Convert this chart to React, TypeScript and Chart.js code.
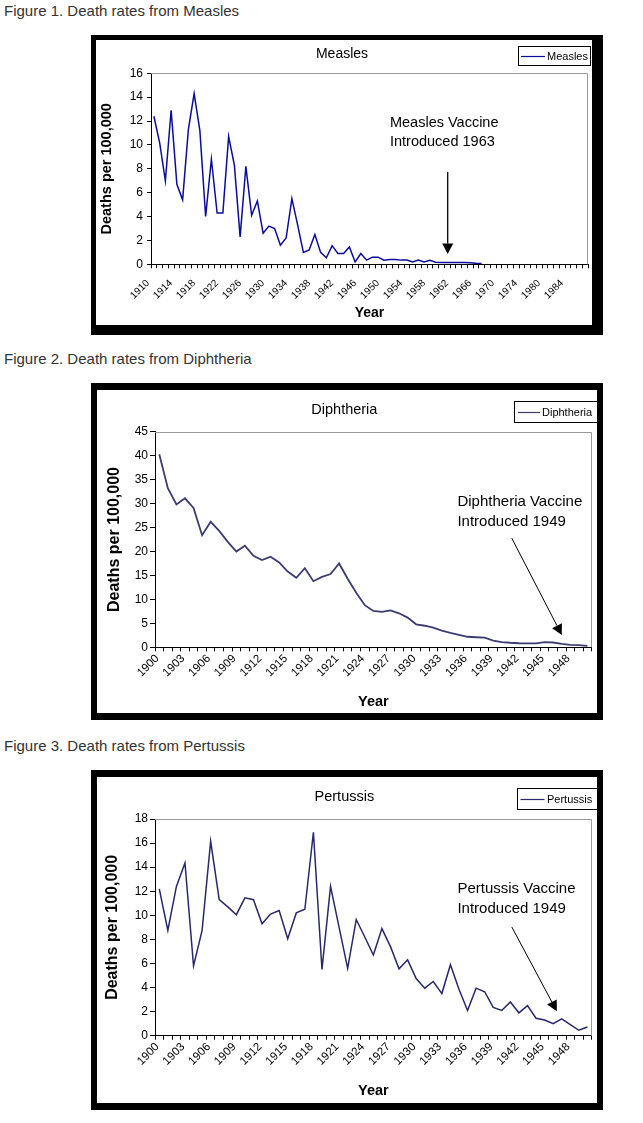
import React, { useEffect, useRef } from 'react';
import { Chart, registerables } from 'chart.js';

Chart.register(...registerables);

const FONT = '"Liberation Sans", Arial, Helvetica, sans-serif';

// ---------------- data ----------------
const measlesYears = [
  '1910', '1911', '1912', '1913', '1914', '1915', '1916', '1917', '1918', '1919',
  '1920', '1921', '1922', '1923', '1924', '1925', '1926', '1927', '1928', '1929',
  '1930', '1931', '1932', '1933', '1934', '1935', '1936', '1937', '1938', '1939',
  '1940', '1941', '1942', '1943', '1944', '1945', '1946', '1947', '1948', '1949',
  '1950', '1951', '1952', '1953', '1954', '1955', '1956', '1957', '1958', '1959',
  '1960', '1961', '1962', '1963', '1964', '1965', '1966', '1967', '1968', '1969',
  '1970', '1971', '1972', '1973', '1974', '1977', '1978', '1979', '1980', '1981',
  '1982', '1983', '1984', '1985', '1986', '1987',
];
const measlesRates = [
  12.4, 10.2, 7.0, 12.9, 6.7, 5.4, 11.3, 14.3, 11.2, 4.0,
  8.8, 4.3, 4.3, 10.7, 8.3, 2.3, 8.2, 4.1, 5.3, 2.6,
  3.2, 3.0, 1.6, 2.2, 5.5, 3.3, 1.0, 1.2, 2.5, 1.0,
  0.55, 1.56, 0.9, 0.9, 1.45, 0.2, 0.9, 0.35, 0.6, 0.6,
  0.35, 0.4, 0.4, 0.35, 0.35, 0.2, 0.35, 0.2, 0.33, 0.17,
  0.15, 0.15, 0.15, 0.15, 0.15, 0.12, 0.08, 0.06,
];

const diphtheriaYears = [
  '1900', '1901', '1902', '1903', '1904', '1905', '1906', '1907', '1908', '1909',
  '1910', '1911', '1912', '1913', '1914', '1915', '1916', '1917', '1918', '1919',
  '1920', '1921', '1922', '1923', '1924', '1925', '1926', '1927', '1928', '1929',
  '1930', '1931', '1932', '1933', '1934', '1935', '1936', '1937', '1938', '1939',
  '1940', '1941', '1942', '1943', '1944', '1945', '1946', '1947', '1948', '1949',
  '1950',
];
const diphtheriaRates = [
  40.3, 33.2, 29.8, 31.1, 29.1, 23.4, 26.2, 24.3, 22.0, 20.0,
  21.2, 19.1, 18.2, 18.9, 17.7, 15.8, 14.5, 16.5, 13.8, 14.7,
  15.3, 17.5, 14.3, 11.4, 8.8, 7.6, 7.4, 7.7, 7.1, 6.2,
  4.8, 4.5, 4.1, 3.5, 3.0, 2.6, 2.2, 2.1, 2.0, 1.4,
  1.1, 0.95, 0.85, 0.8, 0.8, 1.1, 1.0, 0.7, 0.5, 0.45,
  0.3,
];

const pertussisYears = [
  '1900', '1901', '1902', '1903', '1904', '1905', '1906', '1907', '1908', '1909',
  '1910', '1911', '1912', '1913', '1914', '1915', '1916', '1917', '1918', '1919',
  '1920', '1921', '1922', '1923', '1924', '1925', '1926', '1927', '1928', '1929',
  '1930', '1931', '1932', '1933', '1934', '1935', '1936', '1937', '1938', '1939',
  '1940', '1941', '1942', '1943', '1944', '1945', '1946', '1947', '1948', '1949',
  '1950',
];
const pertussisRates = [
  12.2, 8.75, 12.4, 14.35, 5.8, 8.75, 16.15, 11.3, 10.7, 10.05,
  11.45, 11.3, 9.3, 10.1, 10.4, 8.05, 10.2, 10.5, 16.9, 5.5,
  12.4, 9.0, 5.6, 9.65, 8.2, 6.7, 8.9, 7.4, 5.55, 6.3,
  4.75, 3.95, 4.5, 3.5, 5.9, 3.85, 2.1, 3.95, 3.65, 2.35,
  2.1, 2.8, 1.9, 2.5, 1.45, 1.3, 1.0, 1.4, 0.92, 0.45,
  0.72,
];

// annotation text + arrow (in data coordinates: category index, rate)
const measlesNote = ['Measles Vaccine', 'Introduced 1963'];
const measlesNoteAt = [41.06, 11.86, 10.27];
const measlesArrow = [51.1, 7.73, 51.1, 0.86];

const diphtheriaNote = ['Diphtheria Vaccine', 'Introduced 1949'];
const diphtheriaNoteAt = [34.82, 30.4, 26.1];
const diphtheriaArrow = [41.17, 22.76, 47.01, 2.57];

const pertussisNote = ['Pertussis Vaccine', 'Introduced 1949'];
const pertussisNoteAt = [34.82, 12.21, 10.5];
const pertussisArrow = [41.17, 9.03, 46.43, 2.03];

// ---------------- chart component ----------------
type Spec = {
  title: string;
  label: string;
  categories: string[];
  values: number[];
  every: number;
  yMax: number;
  yStep: number;
  color: string;
  lineWidth: number;
  width: number;
  height: number;
  plotLeft: number;
  plotRight: number;
  plotTop: number;
  xAxisHeight: number;
  titleSize: number;
  titlePadTop: number;
  yTitleSize: number;
  yTitlePad: number;
  xTitleSize: number;
  xTitlePad: number;
  yTickSize: number;
  yTickLen: number;
  yTickPad: number;
  xTickSize: number;
  xTickPad: number;
  xTickShift: number;
  legend: { x: number; y: number; w: number; h: number; l0: number; l1: number; tx: number; size: number };
  note: string[];
  noteAt: number[];
  noteSize: number;
  arrow: number[];
  arrowWidth: number;
};

function LineChartPanel({ spec }: { spec: Spec }) {
  const ref = useRef<HTMLCanvasElement | null>(null);

  useEffect(() => {
    const canvas = ref.current;
    if (!canvas) return;
    const s = spec;
    const titleLH = s.titleSize * 1.2;

    const plotBorder = {
      id: 'plotBorder',
      beforeDatasetsDraw(chart: any) {
        const { ctx, chartArea: a } = chart;
        ctx.save();
        ctx.strokeStyle = '#9a9a9a';
        ctx.lineWidth = 1;
        ctx.beginPath();
        ctx.moveTo(a.left, Math.round(a.top) + 0.5);
        ctx.lineTo(Math.round(a.right) - 0.5, Math.round(a.top) + 0.5);
        ctx.lineTo(Math.round(a.right) - 0.5, a.bottom);
        ctx.stroke();
        ctx.restore();
      },
    };

    const annotation = {
      id: 'vaccineNote',
      afterDatasetsDraw(chart: any) {
        const { ctx } = chart;
        const xs = chart.scales.x;
        const ys = chart.scales.y;
        ctx.save();
        ctx.fillStyle = '#000';
        ctx.font = `${s.noteSize}px ${FONT}`;
        ctx.textAlign = 'left';
        ctx.textBaseline = 'middle';
        const tx = xs.getPixelForValue(s.noteAt[0]);
        s.note.forEach((t, k) => {
          ctx.fillText(t, tx, ys.getPixelForValue(s.noteAt[k + 1]));
        });
        const x0 = xs.getPixelForValue(s.arrow[0]);
        const y0 = ys.getPixelForValue(s.arrow[1]);
        const x1 = xs.getPixelForValue(s.arrow[2]);
        const y1 = ys.getPixelForValue(s.arrow[3]);
        const ang = Math.atan2(y1 - y0, x1 - x0);
        const headLen = 10.5;
        const headHalf = 5.5;
        const bx = x1 - headLen * Math.cos(ang);
        const by = y1 - headLen * Math.sin(ang);
        ctx.strokeStyle = '#000';
        ctx.lineWidth = s.arrowWidth;
        ctx.beginPath();
        ctx.moveTo(x0, y0);
        ctx.lineTo(bx, by);
        ctx.stroke();
        ctx.beginPath();
        ctx.moveTo(x1, y1);
        ctx.lineTo(bx + headHalf * Math.sin(ang), by - headHalf * Math.cos(ang));
        ctx.lineTo(bx - headHalf * Math.sin(ang), by + headHalf * Math.cos(ang));
        ctx.closePath();
        ctx.fill();
        ctx.restore();
      },
    };

    const legendBox = {
      id: 'legendBox',
      afterDraw(chart: any) {
        const { ctx } = chart;
        const L = s.legend;
        ctx.save();
        ctx.fillStyle = '#fff';
        ctx.fillRect(L.x, L.y, L.w, L.h);
        ctx.strokeStyle = '#000';
        ctx.lineWidth = 1;
        ctx.strokeRect(Math.round(L.x) + 0.5, Math.round(L.y) + 0.5, Math.round(L.w) - 1, Math.round(L.h) - 1);
        const my = Math.round(L.y + L.h / 2) + 0.5;
        ctx.strokeStyle = s.color;
        ctx.lineWidth = 1.2;
        ctx.beginPath();
        ctx.moveTo(L.x + L.l0, my);
        ctx.lineTo(L.x + L.l1, my);
        ctx.stroke();
        ctx.fillStyle = '#000';
        ctx.font = `${L.size}px ${FONT}`;
        ctx.textAlign = 'left';
        ctx.textBaseline = 'middle';
        ctx.fillText(s.label, L.x + L.tx, L.y + L.h / 2 + 0.5);
        ctx.restore();
      },
    };

    const chart = new Chart(canvas, {
      type: 'line',
      data: {
        labels: s.categories,
        datasets: [
          {
            label: s.label,
            data: s.values,
            borderColor: s.color,
            backgroundColor: s.color,
            borderWidth: s.lineWidth,
            pointRadius: 0,
            pointHoverRadius: 0,
            tension: 0,
            fill: false,
          },
        ],
      },
      options: {
        animation: false,
        responsive: false,
        maintainAspectRatio: false,
        events: [],
        layout: {
          padding: { left: 0, right: s.width - s.plotRight, top: 0, bottom: 0 },
        },
        plugins: {
          legend: { display: false },
          tooltip: { enabled: false },
          title: {
            display: true,
            text: s.title,
            color: '#000',
            font: { family: FONT, size: s.titleSize, weight: 'normal' },
            padding: { top: s.titlePadTop, bottom: s.plotTop - titleLH - s.titlePadTop },
          },
        },
        scales: {
          x: {
            type: 'category',
            offset: true,
            grid: {
              offset: true,
              drawOnChartArea: false,
              drawTicks: true,
              tickLength: 4,
              color: '#000',
              lineWidth: 1,
            },
            border: { display: true, color: '#000', width: 1 },
            ticks: {
              autoSkip: false,
              minRotation: 45,
              maxRotation: 45,
              padding: s.xTickPad,
              labelOffset: s.xTickShift,
              color: '#000',
              font: { family: FONT, size: s.xTickSize },
              callback: (_v: any, i: number) => (i % s.every === 0 ? s.categories[i] : ''),
            },
            title: {
              display: true,
              text: 'Year',
              color: '#000',
              font: { family: FONT, size: s.xTitleSize, weight: 'bold' },
              padding: { top: 0, bottom: s.xTitlePad },
            },
            afterFit: (scale: any) => {
              scale.height = s.xAxisHeight;
              scale.paddingLeft = 0;
              scale.paddingRight = 0;
            },
          },
          y: {
            min: 0,
            max: s.yMax,
            grid: {
              drawOnChartArea: false,
              drawTicks: true,
              tickLength: s.yTickLen,
              color: '#000',
              lineWidth: 1,
            },
            border: { display: true, color: '#000', width: 1 },
            ticks: {
              stepSize: s.yStep,
              padding: s.yTickPad,
              color: '#000',
              font: { family: FONT, size: s.yTickSize },
            },
            title: {
              display: true,
              text: 'Deaths per 100,000',
              color: '#000',
              font: { family: FONT, size: s.yTitleSize, weight: 'bold' },
              padding: { top: s.yTitlePad, bottom: 0 },
            },
            afterFit: (scale: any) => {
              scale.width = s.plotLeft;
            },
          },
        },
      },
      plugins: [plotBorder, annotation, legendBox],
    } as any);

    return () => chart.destroy();
  }, [spec]);

  return (
    <canvas
      ref={ref}
      width={spec.width}
      height={spec.height}
      style={{ display: 'block', width: spec.width, height: spec.height }}
    />
  );
}

const measlesSpec: Spec = {
  title: 'Measles',
  label: 'Measles',
  categories: measlesYears,
  values: measlesRates,
  every: 4,
  yMax: 16,
  yStep: 2,
  color: '#0c0c9c',
  lineWidth: 1.5,
  width: 496,
  height: 285,
  plotLeft: 55,
  plotRight: 492,
  plotTop: 33.3,
  xAxisHeight: 60.7,
  titleSize: 14,
  titlePadTop: 5.6,
  yTitleSize: 14.5,
  yTitlePad: 2,
  xTitleSize: 14,
  xTitlePad: 3.8,
  yTickSize: 12,
  yTickLen: 4,
  yTickPad: 4,
  xTickSize: 10,
  xTickPad: 9,
  xTickShift: -6,
  legend: { x: 422, y: 6, w: 73, h: 20, l0: 3, l1: 27, tx: 29, size: 11 },
  note: measlesNote,
  noteAt: measlesNoteAt,
  noteSize: 14.5,
  arrow: measlesArrow,
  arrowWidth: 1.3,
};

const diphtheriaSpec: Spec = {
  title: 'Diphtheria',
  label: 'Diphtheria',
  categories: diphtheriaYears,
  values: diphtheriaRates,
  every: 3,
  yMax: 45,
  yStep: 5,
  color: '#3c3c72',
  lineWidth: 1.8,
  width: 500,
  height: 323,
  plotLeft: 58,
  plotRight: 494.7,
  plotTop: 41.7,
  xAxisHeight: 65.7,
  titleSize: 14.5,
  titlePadTop: 11.3,
  yTitleSize: 16,
  yTitlePad: 8.4,
  xTitleSize: 14.5,
  xTitlePad: 2,
  yTickSize: 12,
  yTickLen: 5,
  yTickPad: 2,
  xTickSize: 11.5,
  xTickPad: 0.5,
  xTickShift: -2,
  legend: { x: 417, y: 11, w: 84, h: 22, l0: 4, l1: 26, tx: 28, size: 11 },
  note: diphtheriaNote,
  noteAt: diphtheriaNoteAt,
  noteSize: 15,
  arrow: diphtheriaArrow,
  arrowWidth: 1,
};

const pertussisSpec: Spec = {
  title: 'Pertussis',
  label: 'Pertussis',
  categories: pertussisYears,
  values: pertussisRates,
  every: 3,
  yMax: 18,
  yStep: 2,
  color: '#28286a',
  lineWidth: 1.5,
  width: 500,
  height: 326,
  plotLeft: 58,
  plotRight: 494.7,
  plotTop: 42,
  xAxisHeight: 67.3,
  titleSize: 14.5,
  titlePadTop: 11.6,
  yTitleSize: 16,
  yTitlePad: 6.1,
  xTitleSize: 14.5,
  xTitlePad: 3.4,
  yTickSize: 12,
  yTickLen: 5,
  yTickPad: 2,
  xTickSize: 11.5,
  xTickPad: 0.5,
  xTickShift: -2,
  legend: { x: 420, y: 11, w: 81, h: 22, l0: 3.5, l1: 27.5, tx: 30, size: 11 },
  note: pertussisNote,
  noteAt: pertussisNoteAt,
  noteSize: 15,
  arrow: pertussisArrow,
  arrowWidth: 1,
};

function Caption({ top, text }: { top: number; text: string }) {
  return (
    <div
      style={{
        position: 'absolute',
        left: 4,
        top,
        fontFamily: FONT,
        fontSize: 15,
        lineHeight: '15px',
        color: '#333',
        whiteSpace: 'nowrap',
      }}
    >
      {text}
    </div>
  );
}

function Frame({
  left, top, width, height, inset, spec,
}: {
  left: number; top: number; width: number; height: number; inset: [number, number]; spec: Spec;
}) {
  return (
    <div style={{ position: 'absolute', left, top, width, height, background: '#000' }}>
      <div
        style={{
          position: 'absolute',
          left: inset[0],
          top: inset[1],
          width: spec.width,
          height: spec.height,
          background: '#fff',
          overflow: 'hidden',
        }}
      >
        <LineChartPanel spec={spec} />
      </div>
    </div>
  );
}

export default function App() {
  return (
    <div style={{ position: 'absolute', left: 0, top: 0, width: 643, height: 1123, background: '#fff' }}>
      <Caption top={3} text="Figure 1. Death rates from Measles" />
      <Frame left={91} top={35} width={512} height={300} inset={[5, 5]} spec={measlesSpec} />
      <Caption top={351} text="Figure 2. Death rates from Diphtheria" />
      <Frame left={91} top={383} width={512} height={337} inset={[6, 7]} spec={diphtheriaSpec} />
      <Caption top={738} text="Figure 3. Death rates from Pertussis" />
      <Frame left={91} top={770} width={512} height={340} inset={[6, 7]} spec={pertussisSpec} />
    </div>
  );
}
